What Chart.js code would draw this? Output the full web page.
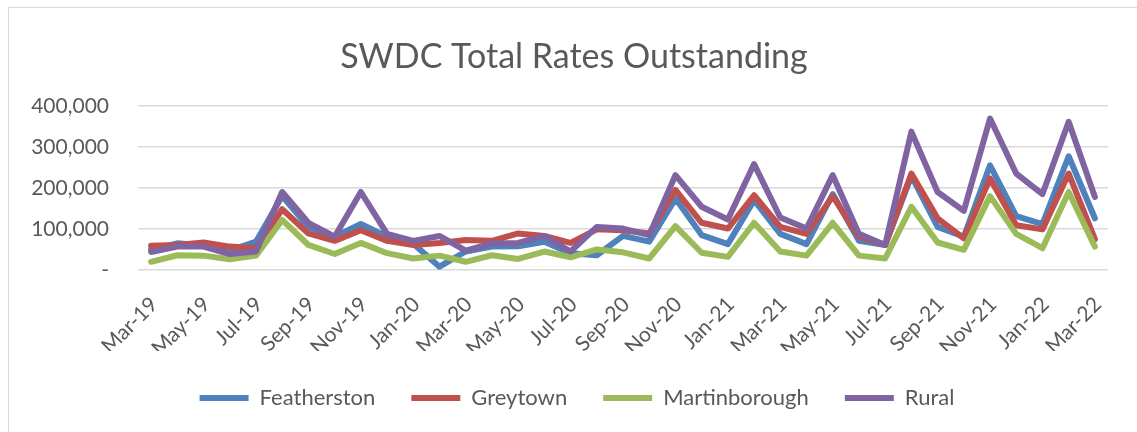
<!DOCTYPE html>
<html lang="en">
<head>
  <meta charset="UTF-8">
  <title>SWDC Total Rates Outstanding</title>
  <script src="https://cdn.jsdelivr.net/npm/chart.js"></script>
  <style>
    body {
      margin: 0;
      background: #fff;
      overflow: hidden;
    }
    #frame {
      position: absolute;
      left: 8px;
      top: 7px;
      width: 1200px;
      height: 500px;
      border: 1.5px solid #d9d9d9;
    }
    #wrap {
      position: absolute;
      left: 0;
      top: 0;
      width: 1137px;
      height: 432px;
    }
  </style>
</head>
<body>
  <div id="frame"></div>
  <div id="wrap"><canvas id="grafico"></canvas></div>

  <script>
    const meses = [
      'Mar-19','Apr-19','May-19','Jun-19','Jul-19','Aug-19','Sep-19','Oct-19','Nov-19','Dec-19',
      'Jan-20','Feb-20','Mar-20','Apr-20','May-20','Jun-20','Jul-20','Aug-20','Sep-20','Oct-20',
      'Nov-20','Dec-20','Jan-21','Feb-21','Mar-21','Apr-21','May-21','Jun-21','Jul-21','Aug-21',
      'Sep-21','Oct-21','Nov-21','Dec-21','Jan-22','Feb-22','Mar-22'
    ];

    const featherston = [
      50000, 65000, 60000, 47000, 69000, 180000, 105000, 81000, 112000, 81000,
      64000, 8000, 45000, 57000, 58000, 69000, 41000, 36000, 83000, 69000,
      174000, 85000, 63000, 170000, 88000, 63000, 185000, 71000, 61000, 229000,
      105000, 81000, 255000, 131000, 112000, 277000, 126000
    ];
    const greytown = [
      59000, 61000, 67000, 57000, 53000, 148000, 89000, 71000, 97000, 71000,
      61000, 66000, 73000, 71000, 89000, 83000, 66000, 99000, 97000, 89000,
      195000, 115000, 101000, 182000, 105000, 88000, 180000, 81000, 61000, 235000,
      126000, 77000, 223000, 109000, 99000, 235000, 75000
    ];
    const martinborough = [
      20000, 36000, 35000, 26000, 35000, 122000, 61000, 39000, 66000, 41000,
      28000, 35000, 20000, 36000, 27000, 45000, 31000, 50000, 43000, 28000,
      107000, 42000, 32000, 115000, 45000, 35000, 115000, 35000, 28000, 154000,
      67000, 49000, 180000, 88000, 53000, 190000, 57000
    ];
    const rural = [
      44000, 57000, 57000, 39000, 45000, 190000, 115000, 81000, 190000, 88000,
      71000, 83000, 47000, 65000, 66000, 83000, 45000, 105000, 101000, 85000,
      231000, 154000, 123000, 258000, 128000, 101000, 231000, 88000, 61000, 337000,
      190000, 144000, 369000, 235000, 185000, 361000, 178000
    ];

    const cinza = '#595959';

    // título e legenda centrados na largura toda, como no original
    const ajusteBlocos = {
      id: 'ajusteBlocos',
      afterLayout(chart) {
        chart.titleBlock.left = 40;
        chart.legend.left += 23;
        chart.legend.right += 23;
      }
    };

    function serie(label, data, cor, ordem) {
      return {
        label,
        data,
        borderColor: cor,
        backgroundColor: cor,
        borderWidth: 6,
        borderJoinStyle: 'round',
        borderCapStyle: 'round',
        pointRadius: 0,
        pointStyle: 'line',
        tension: 0,
        fill: false,
        order: ordem
      };
    }

    const ctx = document.getElementById('grafico').getContext('2d');
    new Chart(ctx, {
      type: 'line',
      data: {
        labels: meses,
        datasets: [
          serie('Featherston', featherston, '#4F81BD', 4),
          serie('Greytown', greytown, '#C0504D', 3),
          serie('Martinborough', martinborough, '#9BBB59', 2),
          serie('Rural', rural, '#8064A2', 1)
        ]
      },
      options: {
        responsive: true,
        maintainAspectRatio: false,
        animation: false,
        layout: { padding: { left: 0, right: 29, top: 0, bottom: 13 } },
        plugins: {
          tooltip: { enabled: false },
          title: {
            display: true,
            text: 'SWDC Total Rates Outstanding',
            color: cinza,
            font: { family: 'Lato', size: 34, weight: 'normal' },
            padding: { top: 37, bottom: 28 }
          },
          legend: {
            position: 'bottom',
            labels: {
              usePointStyle: true,
              pointStyleWidth: 49,
              padding: 36,
              color: cinza,
              font: { family: 'Lato', size: 22 },
              sort: (a, b) => a.datasetIndex - b.datasetIndex
            }
          }
        },
        scales: {
          x: {
            offset: true,
            grid: { display: false },
            border: { display: false },
            afterFit: (s) => { s.height = 81; },
            ticks: {
              autoSkip: false,
              minRotation: 45,
              maxRotation: 45,
              padding: 14,
              labelOffset: 3,
              color: cinza,
              font: { family: 'Lato', size: 21 },
              callback: (v, i) => (i % 2 === 0 ? meses[i] : '')
            }
          },
          y: {
            min: 0,
            max: 400000,
            border: { display: false },
            afterFit: (s) => { s.width = 138; },
            grid: { color: '#d9d9d9', lineWidth: 1.5, drawTicks: false },
            ticks: {
              stepSize: 100000,
              padding: 29,
              color: cinza,
              font: { family: 'Lato', size: 21 },
              callback: (v) => (v === 0 ? '-' : v.toLocaleString('en-US'))
            }
          }
        }
      },
      plugins: [ajusteBlocos]
    });
  </script>
</body>
</html>
